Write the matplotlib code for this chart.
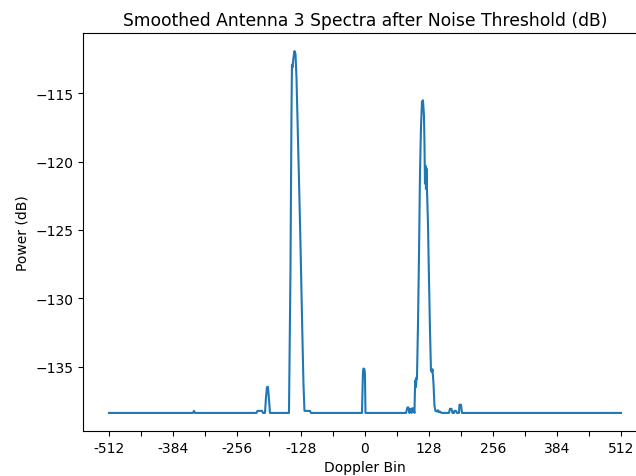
import numpy as np
import matplotlib
matplotlib.use('Agg')
import matplotlib.pyplot as plt

# noise floor after threshold (dB)
floor = -138.4

# vertices of the smoothed spectrum (doppler bin, power dB)
doppler_bin = [-512, -344, -342, -340,
               -217, -215, -206, -204,
               -200, -198, -196, -194, -192, -190,
               -152, -149, -147, -146, -145, -143, -141, -139, -137, -135, -133,
               -131, -129, -127, -125, -123, -121, -110, -108,
               -6, -4, -3, -1, 0, 1,
               80, 82, 85, 87, 89, 91, 93, 95, 97, 99,
               100, 101, 102, 103, 104, 106, 108, 110, 112, 114, 116, 118, 119,
               120, 121, 122, 123, 124, 126, 128, 130, 132, 134, 135, 137, 139, 141,
               144, 146, 148, 150, 153,
               168, 170, 173, 175, 178, 179, 182, 184, 188, 189, 192, 194, 512]
power_db = [floor, floor, -138.25, floor,
            floor, -138.25, -138.25, floor,
            floor, -137.3, -136.5, -136.5, -137.4, floor,
            floor, -128.0, -116.5, -112.9, -113.1, -112.4, -111.9, -112.1, -113.8, -116.8, -119.8,
            -122.8, -126.0, -129.5, -133.0, -136.3, -138.25, -138.25, floor,
            floor, -135.4, -135.15, -135.2, -135.6, floor,
            floor, floor, -138.0, -138.0, floor, -138.1, floor, -138.05, -138.1, floor,
            -136.6, -136.0, -136.5, -135.8, -135.9, -132.0, -127.0, -121.0, -117.5, -115.6, -115.5, -116.6, -118.6,
            -121.6, -120.3, -122.0, -120.5, -122.0, -124.5, -128.5, -132.3, -135.3, -135.4, -135.2, -136.2, -137.9, -138.25,
            -138.3, -138.2, -138.35, -138.3, floor,
            floor, -138.1, -138.1, floor, floor, -138.25, -138.25, floor, floor, -137.8, -137.8, floor, floor]

tick_bins = list(range(-512, 513, 64))
tick_labels = [str(b) if b % 128 == 0 else '' for b in tick_bins]

fig = plt.figure(figsize=(6.36, 4.77), dpi=100)
ax = fig.add_axes([0.1311, 0.0943, 0.8855, 0.8344])

ax.plot(doppler_bin, power_db)
ax.set_xticks(tick_bins)
ax.set_xticklabels(tick_labels)
ax.set_title('Smoothed Antenna 3 Spectra after Noise Threshold (dB)', fontsize=12.35)
ax.set_xlabel('Doppler Bin')
ax.set_ylabel('Power (dB)')

fig.savefig('out.png', dpi=100)
